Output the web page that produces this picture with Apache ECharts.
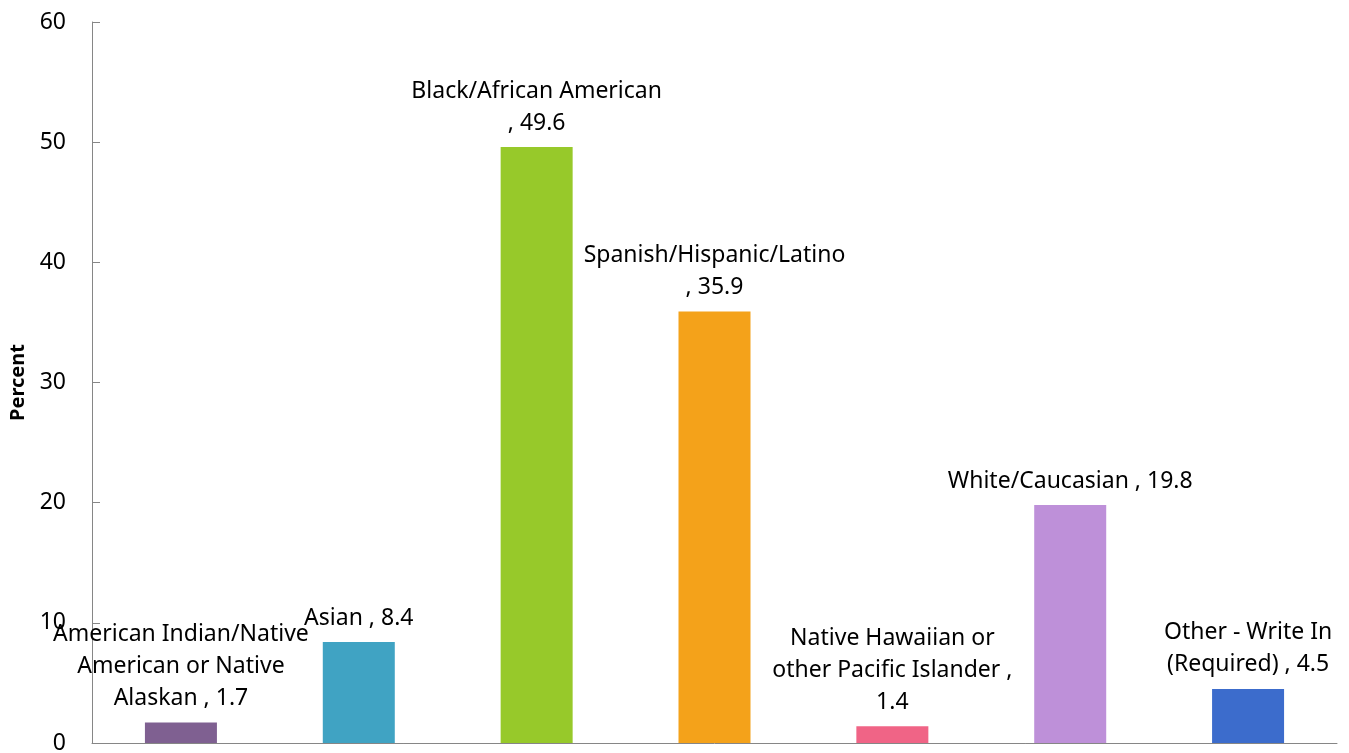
<!DOCTYPE html>
<html>
<head>
<meta charset="utf-8">
<script src="https://cdn.jsdelivr.net/npm/echarts@6/dist/echarts.min.js"></script>
<style>
html, body { margin: 0; padding: 0; background: #fff; }
#chart { width: 1349px; height: 753px; }
</style>
</head>
<body>
<div id="chart"></div>
<script>
// race categories and percentages
var categories = [
    'American Indian/Native American or Native Alaskan',
    'Asian',
    'Black/African American',
    'Spanish/Hispanic/Latino',
    'Native Hawaiian or other Pacific Islander',
    'White/Caucasian',
    'Other - Write In (Required)'
];
var percents = [1.7, 8.4, 49.6, 35.9, 1.4, 19.8, 4.5];
// label text as wrapped in the original, value gets appended
var labelPrefix = [
    'American Indian/Native\nAmerican or Native\nAlaskan , ',
    'Asian , ',
    'Black/African American\n, ',
    'Spanish/Hispanic/Latino\n, ',
    'Native Hawaiian or\nother Pacific Islander ,\n',
    'White/Caucasian , ',
    'Other - Write In\n(Required) , '
];
var barColors = ['#7f6091', '#40a3c3', '#97c92a', '#f4a21a', '#f06486', '#be90d9', '#3c6ccc'];

var font = '"Noto Sans", "Open Sans", sans-serif';

var chart = echarts.init(document.getElementById('chart'));
var option = {
    animation: false,
    grid: { left: 92, right: 12, top: 22, bottom: 10, outerBoundsMode: 'none', containLabel: false },
    xAxis: {
        type: 'category',
        data: categories,
        axisLine: { lineStyle: { color: '#868686' } },
        axisTick: { inside: true, length: 8, lineStyle: { color: '#868686' } },
        axisLabel: { show: false }
    },
    yAxis: {
        type: 'value',
        min: 0,
        max: 60,
        interval: 10,
        name: 'Percent',
        nameLocation: 'middle',
        nameGap: 63,
        nameTextStyle: { fontFamily: font, fontSize: 20, fontWeight: 'bold', color: '#000' },
        axisLine: { show: true, lineStyle: { color: '#868686' } },
        axisTick: { show: true, inside: true, length: 8, lineStyle: { color: '#868686' } },
        splitLine: { show: false },
        axisLabel: { fontFamily: font, fontSize: 23, color: '#000', margin: 26 }
    },
    series: [{
        type: 'bar',
        barWidth: 72,
        data: percents.map(function (v, i) {
            return { value: v, itemStyle: { color: barColors[i] } };
        }),
        label: {
            show: true,
            position: 'top',
            distance: 8,
            fontFamily: font,
            fontSize: 23,
            lineHeight: 32,
            color: '#000',
            align: 'center',
            formatter: function (p) {
                return labelPrefix[p.dataIndex] + p.value;
            }
        }
    }]
};
chart.setOption(option);
</script>
</body>
</html>
